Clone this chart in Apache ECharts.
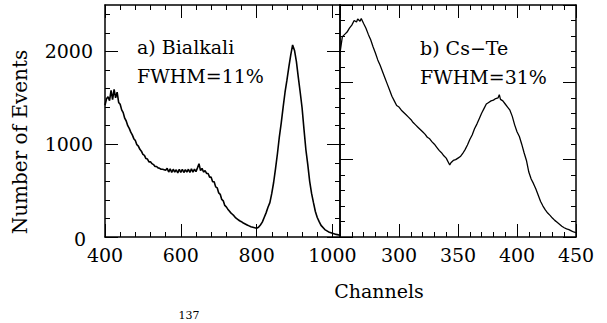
<!DOCTYPE html>
<html>
<head>
<meta charset="utf-8">
<script src="https://cdn.jsdelivr.net/npm/echarts@6/dist/echarts.min.js"></script>
<style>
html,body{margin:0;padding:0;background:#fff;}
#chart{width:607px;height:323px;}
</style>
</head>
<body>
<div id="chart"></div>
<script>
// ---- Data: panel a) Bialkali ----
const bialkaliChannels = [
400,404,408,412,416,420,424,428,432,436,440,444,448,452,456,460,464,468,472,476,
480,484,488,492,496,500,504,508,512,516,520,524,528,532,536,540,544,548,552,556,
560,564,568,572,576,580,584,588,592,596,600,604,608,612,616,620,624,628,632,636,
640,644,648,652,656,660,664,668,672,676,680,684,688,692,696,700,704,708,712,716,
720,724,728,732,736,740,745,750,755,760,765,770,775,780,785,790,795,800,805,810,
815,820,825,830,835,840,845,850,855,860,865,870,875,880,885,890,895,900,905,910,
915,920,925,930,935,940,945,950,955,960,965,970,980,990,1000,1010,1020];
const bialkaliCounts = [
1420,1490,1510,1470,1580,1480,1590,1500,1560,1450,1430,1370,1340,1280,1250,1200,1170,1130,1100,1060,
1040,995,980,945,925,890,880,845,840,810,810,790,780,760,760,745,740,730,730,725,
720,740,700,735,695,730,700,725,690,730,695,730,695,725,700,730,695,735,700,730,
705,745,790,715,740,700,715,685,685,645,645,595,595,540,530,475,460,405,390,340,
325,300,280,260,245,230,205,190,175,165,150,140,130,120,110,105,100,95,105,130,
160,210,260,320,370,470,590,740,900,1080,1230,1400,1560,1690,1830,1960,2070,2010,1890,1720,
1560,1390,1160,940,780,600,470,370,275,210,165,125,80,55,40,28,18];

// ---- Data: panel b) Cs-Te ----
const csteChannels = [
250,252,254,256,258,260,262,264,265,267,268,270,272,274,276,278,280,282,284,286,
288,290,292,294,296,298,300,302,304,306,308,310,312,314,316,318,320,322,324,326,
328,330,332,334,336,338,340,342,343,344,346,348,350,352,354,356,358,360,362,364,
366,368,370,372,374,376,378,380,382,384,385,386,388,390,392,394,396,398,400,402,
404,406,408,410,412,414,416,418,420,422,424,426,428,430,432,434,436,438,440,442,
444,446,448,450];
const csteCounts = [
2380,2590,2620,2650,2700,2740,2800,2780,2820,2790,2825,2760,2700,2620,2550,2460,2380,2290,2220,2140,
2060,1980,1900,1820,1760,1700,1680,1640,1610,1580,1550,1520,1480,1450,1420,1390,1360,1330,1290,1270,
1230,1200,1160,1120,1090,1050,1020,960,930,960,990,1000,1020,1040,1080,1130,1190,1260,1320,1400,
1460,1530,1600,1660,1720,1740,1760,1770,1790,1800,1840,1780,1760,1720,1680,1640,1560,1450,1360,1300,
1200,1090,990,840,750,690,620,540,460,400,350,310,280,245,215,190,165,140,120,105,
95,80,65,55];

// ---- Tick labels / tick positions ----
const leftXLabels = [400, 600, 800, 1000];
const rightXLabels = [300, 350, 400, 450];
const leftYLabels = [0, 1000, 2000];
const leftXTicks = [400, 600, 800, 1000];
const rightXTicks = [250, 300, 350, 400, 450];
const leftYTicks = [0, 1000, 2000];
const rightYTicks = [0, 1000, 2000, 3000];

const FONT = 'DejaVu Serif';
const BLACK = '#000';

function pairs(xs, ys) { return xs.map((x, i) => [x, ys[i]]); }

function makeAxis(o) {
  const a = {
    type: 'value',
    gridIndex: o.grid,
    position: o.position,
    min: o.min, max: o.max, interval: o.interval,
    axisLine: { show: true, onZero: false, lineStyle: { color: BLACK, width: 1.5 } },
    axisTick: { show: true, inside: true, interval: 0, length: 13, customValues: o.ticks, lineStyle: { color: BLACK, width: 1 } },
    minorTick: { show: true, splitNumber: 5, length: 5, lineStyle: { color: BLACK, width: 1 } },
    splitLine: { show: false },
    minorSplitLine: { show: false }
  };
  if (o.labels) {
    a.axisLabel = {
      show: true, interval: 0, margin: o.margin, color: BLACK, fontFamily: FONT, fontSize: 19,
      formatter: v => (o.labels.indexOf(v) >= 0 ? (v === 0 && o.zeroShift ? '{z|0}' : String(v)) : ''),
      rich: { z: { fontFamily: FONT, fontSize: 19, color: BLACK, padding: [4, 7, 0, 0] } }
    };
  } else {
    a.axisLabel = { show: false };
  }
  return a;
}

const xAxes = [
  makeAxis({grid:0, position:'bottom', min:400, max:1020, interval:200, ticks:leftXTicks, labels:leftXLabels, margin:8}),
  makeAxis({grid:0, position:'top', min:400, max:1020, interval:200, ticks:leftXTicks}),
  makeAxis({grid:1, position:'bottom', min:250, max:450, interval:50, ticks:rightXTicks, labels:rightXLabels, margin:8}),
  makeAxis({grid:1, position:'top', min:250, max:450, interval:50, ticks:rightXTicks})
];
const yAxes = [
  makeAxis({grid:0, position:'left', min:0, max:2500, interval:1000, ticks:leftYTicks, labels:leftYLabels, margin:12, zeroShift:true}),
  makeAxis({grid:0, position:'right', min:0, max:2500, interval:1000, ticks:leftYTicks}),
  makeAxis({grid:1, position:'left', min:0, max:3000, interval:1000, ticks:rightYTicks}),
  makeAxis({grid:1, position:'right', min:0, max:3000, interval:1000, ticks:rightYTicks})
];

const chart = echarts.init(document.getElementById('chart'), null, { renderer: 'svg' });
chart.setOption({
  animation: false,
  grid: [
    { left: 105, top: 5, width: 235, height: 232 },
    { left: 340, top: 5, width: 236, height: 232 }
  ],
  xAxis: xAxes,
  yAxis: yAxes,
  series: [
    { type: 'line', xAxisIndex: 0, yAxisIndex: 0, data: pairs(bialkaliChannels, bialkaliCounts),
      showSymbol: false, symbol: 'none', lineStyle: { color: BLACK, width: 1.6 } },
    { type: 'line', xAxisIndex: 2, yAxisIndex: 2, data: pairs(csteChannels, csteCounts),
      showSymbol: false, symbol: 'none', lineStyle: { color: BLACK, width: 1.3 } }
  ],
  graphic: [
    { type: 'text', x: 137, y: 47, style: { text: 'a) Bialkali', font: '19px "DejaVu Serif"', fill: BLACK, verticalAlign: 'middle' } },
    { type: 'text', x: 137, y: 76, style: { text: 'FWHM=11%', font: '19px "DejaVu Serif"', fill: BLACK, verticalAlign: 'middle' } },
    { type: 'text', x: 420, y: 48, style: { text: 'b) Cs\u2212Te', font: '19px "DejaVu Serif"', fill: BLACK, verticalAlign: 'middle' } },
    { type: 'text', x: 420, y: 77, style: { text: 'FWHM=31%', font: '19px "DejaVu Serif"', fill: BLACK, verticalAlign: 'middle' } },
    { type: 'text', x: 20, y: 142, rotation: Math.PI / 2, style: { text: 'Number of Events', font: '20px "DejaVu Serif"', fill: BLACK, align: 'center', verticalAlign: 'middle' } },
    { type: 'text', x: 379, y: 291, style: { text: 'Channels', font: '19px "DejaVu Serif"', fill: BLACK, align: 'center', verticalAlign: 'middle' } },
    { type: 'text', x: 189, y: 315, style: { text: '137', font: '11px "DejaVu Serif"', fill: BLACK, align: 'center', verticalAlign: 'middle' } }
  ]
});
</script>
</body>
</html>
